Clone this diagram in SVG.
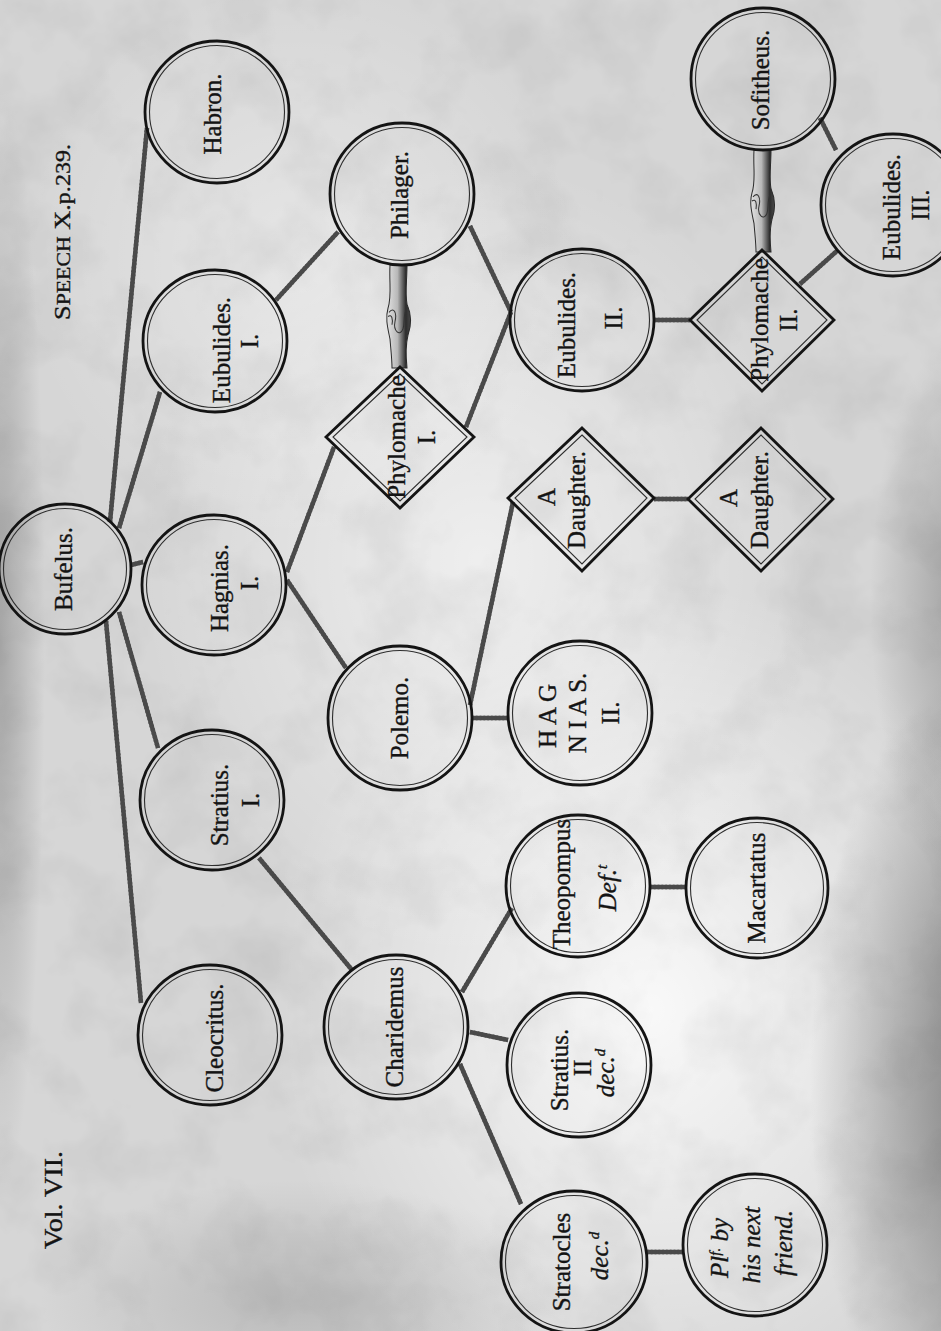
<svg xmlns="http://www.w3.org/2000/svg" xmlns:xlink="http://www.w3.org/1999/xlink" width="941" height="1331" viewBox="0 0 941 1331">
<defs>
<style>
.o{fill:none;stroke:#141414;stroke-width:2.8}
.in{fill:none;stroke:#2e2e2e;stroke-width:1.1}
.t{font-family:"Liberation Serif","DejaVu Serif",serif;font-size:25px;fill:#141414;stroke:#141414;stroke-width:0.35;text-anchor:middle}
.i{font-style:italic}
.sup{font-size:15px}
.rope-base line{stroke:#4a4a4a;stroke-width:4.5;stroke-linecap:butt}
.rope-twist use{stroke:#bcbcbc;stroke-width:1.8;stroke-dasharray:1.8 2}
.hand{fill:url(#handGrad);stroke:#2a2a2a;stroke-width:1}
.finger{fill:none;stroke:#333;stroke-width:1}
</style>
<radialGradient id="light1" cx="0.5" cy="0.5" r="0.5">
<stop offset="0" stop-color="#ffffff" stop-opacity="0.85"/>
<stop offset="1" stop-color="#ffffff" stop-opacity="0"/>
</radialGradient>
<radialGradient id="dark1" cx="0.5" cy="0.5" r="0.5">
<stop offset="0" stop-color="#6a6a6a" stop-opacity="0.9"/>
<stop offset="1" stop-color="#6a6a6a" stop-opacity="0"/>
</radialGradient>
<linearGradient id="handGrad" x1="0" y1="0" x2="1" y2="0">
<stop offset="0" stop-color="#e2e2e2"/>
<stop offset="0.45" stop-color="#b8b8b8"/>
<stop offset="0.8" stop-color="#2c2c2c"/>
<stop offset="1" stop-color="#4a4a4a"/>
</linearGradient>
<filter id="mottle" x="0" y="0" width="100%" height="100%">
<feTurbulence type="fractalNoise" baseFrequency="0.014" numOctaves="4" seed="7" result="n"/>
<feColorMatrix in="n" type="matrix" values="0 0 0 0 0  0 0 0 0 0  0 0 0 0 0  1.2 0 0 0 -0.5"/>
</filter>
<g id="hands">
<path class="hand" d="M -9 0 C -10 18 -7 30 -11 42 C -14 52 -11 62 -9 72 C -8 84 -7 92 -7 100 L 8 100 C 7 90 6 80 9 68 C 13 57 12 47 8 38 C 6 27 8 14 8 0 Z"/>
<path class="finger" d="M -10 46 C -5 40 -2 47 -4 55 C -6 64 1 70 4 62 C 6 56 4 50 7 44"/>
<path class="finger" d="M -11 50 C -7 47 -6 53 -7 58"/>
</g>
</defs>

<g id="paper">
<rect x="0" y="0" width="941" height="1331" fill="#d6d6d6"/>
<ellipse cx="650" cy="1010" rx="380" ry="430" fill="url(#light1)"/>
<ellipse cx="480" cy="560" rx="340" ry="400" fill="url(#light1)" opacity="0.7"/>
<ellipse cx="300" cy="260" rx="280" ry="280" fill="url(#light1)" opacity="0.45"/>
<ellipse cx="0" cy="640" rx="45" ry="560" fill="url(#dark1)" opacity="0.5"/>
<ellipse cx="1000" cy="1080" rx="190" ry="420" fill="url(#dark1)"/>
<ellipse cx="960" cy="600" rx="90" ry="260" fill="url(#dark1)" opacity="0.55"/>
<ellipse cx="300" cy="1300" rx="260" ry="120" fill="url(#dark1)" opacity="0.3"/>
<rect x="0" y="0" width="941" height="1331" filter="url(#mottle)" opacity="0.1"/>
</g>

<g id="titles">
<text class="t" transform="translate(70,232) rotate(-90)" textLength="176" lengthAdjust="spacingAndGlyphs"><tspan font-size="23">S</tspan><tspan font-size="19">PEECH</tspan><tspan font-size="23"> X.</tspan><tspan font-size="21">p.239.</tspan></text>
<text class="t" transform="translate(62,1200) rotate(-90)" font-size="23" textLength="98" lengthAdjust="spacingAndGlyphs">Vol. VII.</text>
</g>

<g id="connectors">
<g class="rope-base">
<line id="c1" x1="110" y1="522" x2="147" y2="128"/>
<line id="c2" x1="119" y1="528" x2="160" y2="392"/>
<line id="c3" x1="131" y1="565" x2="143" y2="562"/>
<line id="c4" x1="119" y1="612" x2="158" y2="748"/>
<line id="c5" x1="106" y1="621" x2="141" y2="1003"/>
<line id="c6" x1="276" y1="300" x2="338" y2="232"/>
<line id="c7" x1="287" y1="572" x2="334" y2="447"/>
<line id="c8" x1="287" y1="580" x2="346" y2="668"/>
<line id="c9" x1="470" y1="226" x2="511" y2="312"/>
<line id="c10" x1="466" y1="427" x2="511" y2="312"/>
<line id="c11" x1="654" y1="320" x2="690" y2="320"/>
<line id="c12" x1="820" y1="118" x2="836" y2="150"/>
<line id="c13" x1="800" y1="284" x2="838" y2="250"/>
<line id="c14" x1="470" y1="705" x2="513" y2="502"/>
<line id="c15" x1="472" y1="718" x2="508" y2="718"/>
<line id="c16" x1="654" y1="499" x2="688" y2="499"/>
<line id="c17" x1="259" y1="858" x2="352" y2="970"/>
<line id="c18" x1="462" y1="992" x2="512" y2="908"/>
<line id="c19" x1="470" y1="1032" x2="508" y2="1040"/>
<line id="c20" x1="460" y1="1064" x2="521" y2="1204"/>
<line id="c21" x1="650" y1="887" x2="686" y2="887"/>
<line id="c22" x1="647" y1="1252" x2="683" y2="1252"/>
</g>
<g class="rope-twist">
<use href="#c1"/><use href="#c2"/><use href="#c3"/><use href="#c4"/><use href="#c5"/><use href="#c6"/><use href="#c7"/><use href="#c8"/><use href="#c9"/><use href="#c10"/><use href="#c11"/><use href="#c12"/><use href="#c13"/><use href="#c14"/><use href="#c15"/><use href="#c16"/><use href="#c17"/><use href="#c18"/><use href="#c19"/><use href="#c20"/><use href="#c21"/><use href="#c22"/>
</g>
<use href="#hands" transform="translate(399,265) scale(1,1.03)"/>
<use href="#hands" transform="translate(763,150) scale(1,1.02)"/>
</g>

<g id="bufelus">
<ellipse class="o" cx="65" cy="569" rx="66" ry="65"/>
<ellipse class="in" cx="65" cy="569" rx="61.5" ry="60.5"/>
<text class="t" transform="translate(72,569) rotate(-90)">Bufelus.</text>
</g>

<g id="habron">
<ellipse class="o" cx="217" cy="112" rx="72" ry="71"/>
<ellipse class="in" cx="217" cy="112" rx="67.5" ry="66.5"/>
<text class="t" transform="translate(221,114) rotate(-90)">Habron.</text>
</g>

<g id="eubulides1">
<ellipse class="o" cx="215" cy="341" rx="72" ry="71"/>
<ellipse class="in" cx="215" cy="341" rx="67.5" ry="66.5"/>
<text class="t" transform="translate(230,350) rotate(-90)">Eubulides.</text>
<text class="t" transform="translate(258,341) rotate(-90)">I.</text>
</g>

<g id="hagnias1">
<ellipse class="o" cx="214" cy="585" rx="72" ry="70"/>
<ellipse class="in" cx="214" cy="585" rx="67.5" ry="65.5"/>
<text class="t" transform="translate(228,588) rotate(-90)">Hagnias.</text>
<text class="t" transform="translate(258,583) rotate(-90)">I.</text>
</g>

<g id="stratius1">
<ellipse class="o" cx="212" cy="800" rx="72" ry="70"/>
<ellipse class="in" cx="212" cy="800" rx="67.5" ry="65.5"/>
<text class="t" transform="translate(228,805) rotate(-90)">Stratius.</text>
<text class="t" transform="translate(259,800) rotate(-90)">I.</text>
</g>

<g id="cleocritus">
<ellipse class="o" cx="210" cy="1035" rx="72" ry="70"/>
<ellipse class="in" cx="210" cy="1035" rx="67.5" ry="65.5"/>
<text class="t" transform="translate(223,1038) rotate(-90)">Cleocritus.</text>
</g>

<g id="philager">
<ellipse class="o" cx="402" cy="194" rx="72" ry="71"/>
<ellipse class="in" cx="402" cy="194" rx="67.5" ry="66.5"/>
<text class="t" transform="translate(408,195) rotate(-90)">Philager.</text>
</g>

<g id="phylomache1">
<polygon class="o" points="400,367 474,437 400,508 326,437"/>
<polygon class="in" points="400,374 467,437 400,501 333,437"/>
<text class="t" transform="translate(405,437) rotate(-90)">Phylomache</text>
<text class="t" transform="translate(435,437) rotate(-90)">I.</text>
</g>

<g id="polemo">
<ellipse class="o" cx="400" cy="718" rx="72" ry="72"/>
<ellipse class="in" cx="400" cy="718" rx="67.5" ry="67.5"/>
<text class="t" transform="translate(408,718) rotate(-90)">Polemo.</text>
</g>

<g id="charidemus">
<ellipse class="o" cx="396" cy="1027" rx="72" ry="72"/>
<ellipse class="in" cx="396" cy="1027" rx="67.5" ry="67.5"/>
<text class="t" transform="translate(403,1027) rotate(-90)">Charidemus</text>
</g>

<g id="eubulides2">
<ellipse class="o" cx="582" cy="320" rx="72" ry="71"/>
<ellipse class="in" cx="582" cy="320" rx="67.5" ry="66.5"/>
<text class="t" transform="translate(575,325) rotate(-90)">Eubulides.</text>
<text class="t" transform="translate(622,318) rotate(-90)">II.</text>
</g>

<g id="daughter1">
<polygon class="o" points="582,428 654,498 582,571 508,498"/>
<polygon class="in" points="582,435 647,498 582,564 515,498"/>
<text class="t" transform="translate(555,497) rotate(-90)">A</text>
<text class="t" transform="translate(585,500) rotate(-90)">Daughter.</text>
</g>

<g id="hagnias2">
<ellipse class="o" cx="580" cy="713" rx="72" ry="72"/>
<ellipse class="in" cx="580" cy="713" rx="67.5" ry="67.5"/>
<text class="t" transform="translate(556,716) rotate(-90)">H A G</text>
<text class="t" transform="translate(586,713) rotate(-90)">N I A S.</text>
<text class="t" transform="translate(619,713) rotate(-90)">II.</text>
</g>

<g id="theopompus">
<ellipse class="o" cx="578" cy="886" rx="72" ry="71"/>
<ellipse class="in" cx="578" cy="886" rx="67.5" ry="66.5"/>
<text class="t" transform="translate(570,884) rotate(-90)">Theopompus</text>
<text class="t i" transform="translate(616,888) rotate(-90)">Def.<tspan class="sup" dy="-9">t</tspan></text>
</g>

<g id="stratius2">
<ellipse class="o" cx="579" cy="1065" rx="72" ry="72"/>
<ellipse class="in" cx="579" cy="1065" rx="67.5" ry="67.5"/>
<text class="t" transform="translate(568,1070) rotate(-90)">Stratius.</text>
<text class="t" font-size="22" transform="translate(591,1068) rotate(-90)">II</text>
<text class="t i" transform="translate(614,1073) rotate(-90)">dec.<tspan class="sup" dy="-9">d</tspan></text>
</g>

<g id="stratocles">
<ellipse class="o" cx="574" cy="1262" rx="73" ry="71"/>
<ellipse class="in" cx="574" cy="1262" rx="68.5" ry="66.5"/>
<text class="t" transform="translate(570,1262) rotate(-90)">Stratocles</text>
<text class="t i" transform="translate(608,1256) rotate(-90)">dec.<tspan class="sup" dy="-9">d</tspan></text>
</g>

<g id="sofitheus">
<ellipse class="o" cx="763" cy="79" rx="72" ry="71"/>
<ellipse class="in" cx="763" cy="79" rx="67.5" ry="66.5"/>
<text class="t" transform="translate(769,80) rotate(-90)">Sofitheus.</text>
</g>

<g id="eubulides3">
<ellipse class="o" cx="893" cy="205" rx="72" ry="71"/>
<ellipse class="in" cx="893" cy="205" rx="67.5" ry="66.5"/>
<text class="t" transform="translate(900,207) rotate(-90)">Eubulides.</text>
<text class="t" transform="translate(929,205) rotate(-90)">III.</text>
</g>

<g id="phylomache2">
<polygon class="o" points="762,250 834,320 762,391 690,320"/>
<polygon class="in" points="762,257 827,320 762,384 697,320"/>
<text class="t" transform="translate(768,320) rotate(-90)">Phylomache</text>
<text class="t" transform="translate(797,320) rotate(-90)">II.</text>
</g>

<g id="daughter2">
<polygon class="o" points="761,428 833,499 761,571 688,499"/>
<polygon class="in" points="761,435 826,499 761,564 695,499"/>
<text class="t" transform="translate(737,498) rotate(-90)">A</text>
<text class="t" transform="translate(768,500) rotate(-90)">Daughter.</text>
</g>

<g id="macartatus">
<ellipse class="o" cx="757" cy="888" rx="71" ry="70"/>
<ellipse class="in" cx="757" cy="888" rx="66.5" ry="65.5"/>
<text class="t" transform="translate(765,888) rotate(-90)">Macartatus</text>
</g>

<g id="plf">
<ellipse class="o" cx="755" cy="1245" rx="72" ry="71"/>
<ellipse class="in" cx="755" cy="1245" rx="67.5" ry="66.5"/>
<text class="t i" transform="translate(728,1248) rotate(-90)">Pl<tspan class="sup" dy="-8">f.</tspan><tspan dy="8"> by</tspan></text>
<text class="t i" transform="translate(760,1245) rotate(-90)">his next</text>
<text class="t i" transform="translate(792,1243) rotate(-90)">friend.</text>
</g>
</svg>
